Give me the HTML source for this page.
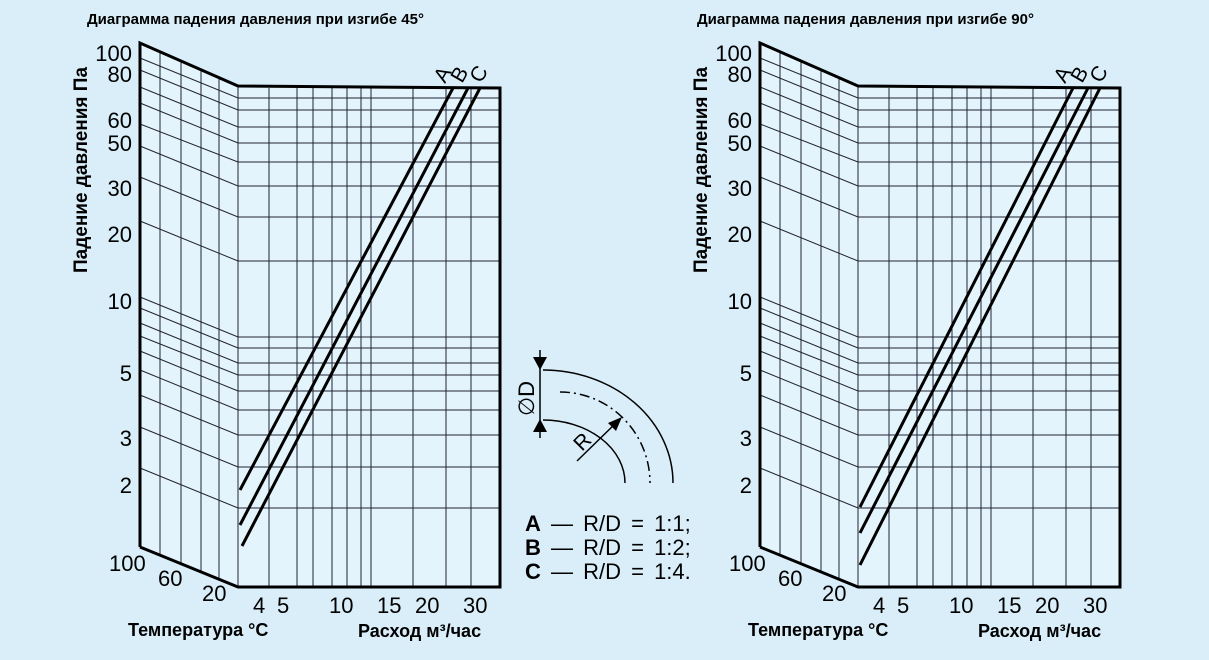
<!DOCTYPE html>
<html><head><meta charset="utf-8"><style>
body{margin:0;background:#d9eef9;}
svg{display:block;font-family:"Liberation Sans",sans-serif;}
</style></head><body>
<svg width="1209" height="660" viewBox="0 0 1209 660" xmlns="http://www.w3.org/2000/svg">
<rect width="1209" height="660" fill="#d9eef9"/>
<defs>
<g id="grid">
  <polygon points="140,43 238,86 500,88 500,587 238,587 140,547" fill="#e3f4fc"/>
  <g stroke="#223" stroke-width="1" fill="none">
    <line x1="160" y1="52" x2="160" y2="556"/>
    <line x1="181" y1="61" x2="181" y2="564"/>
    <line x1="201" y1="70" x2="201" y2="572"/>
    <line x1="219" y1="78" x2="219" y2="579"/>
    <line x1="269" y1="88" x2="269" y2="587"/>
    <line x1="297" y1="88" x2="297" y2="587"/>
    <line x1="313" y1="88" x2="313" y2="587"/>
    <line x1="332" y1="88" x2="332" y2="587"/>
    <line x1="347" y1="88" x2="347" y2="587"/>
    <line x1="361" y1="88" x2="361" y2="587"/>
    <line x1="371" y1="88" x2="371" y2="587"/>
    <line x1="413" y1="88" x2="413" y2="587"/>
    <line x1="446" y1="88" x2="446" y2="587"/>
    <line x1="471" y1="88" x2="471" y2="587"/>
    <polyline points="140,58 238,98 500,98"/>
    <polyline points="140,70 238,110 500,110"/>
    <polyline points="140,87 238,127 500,127"/>
    <polyline points="140,103 238,143 500,143"/>
    <polyline points="140,124 238,162 500,162"/>
    <polyline points="140,146 238,186 500,186"/>
    <polyline points="140,177 238,217 500,217"/>
    <polyline points="140,221 238,261 500,261"/>
    <polyline points="140,297 238,337 500,337"/>
    <polyline points="140,308 238,348 500,348"/>
    <polyline points="140,323 238,363 500,363"/>
    <polyline points="140,336 238,375 500,375"/>
    <polyline points="140,351 238,391 500,391"/>
    <polyline points="140,370 238,410 500,410"/>
    <polyline points="140,395 238,435 500,435"/>
    <polyline points="140,427 238,467 500,467"/>
    <polyline points="140,468 238,508 500,508"/>
    <line x1="238" y1="86" x2="238" y2="587"/>
  </g>
  <g stroke="#000" stroke-width="3" fill="none">
    <polyline points="140,547 140,43 238,86 500,88 500,587 238,587 140,547"/>
  </g>
  <g font-size="22" fill="#000" text-anchor="end">
    <text x="132" y="61">100</text>
    <text x="132" y="82">80</text>
    <text x="132" y="128">60</text>
    <text x="132" y="151">50</text>
    <text x="132" y="196">30</text>
    <text x="132" y="242">20</text>
    <text x="132" y="309">10</text>
    <text x="132" y="381">5</text>
    <text x="132" y="446">3</text>
    <text x="132" y="493">2</text>
  </g>
  <g font-size="22" fill="#000">
    <text x="109" y="571">100</text>
    <text x="158" y="586">60</text>
    <text x="202" y="601">20</text>
    <text x="253" y="613">4</text>
    <text x="277" y="613">5</text>
    <text x="329" y="613">10</text>
    <text x="377" y="613">15</text>
    <text x="415" y="613">20</text>
    <text x="463" y="613">30</text>
  </g>
  <text x="128" y="636" font-size="18" font-weight="bold">Температура °C</text>
  <text x="358" y="637" font-size="18" font-weight="bold">Расход м³/час</text>
  <text transform="translate(87,170) rotate(-90)" text-anchor="middle" font-size="19" font-weight="bold">Падение давления Па</text>
</g>
</defs>

<text x="87" y="24" font-size="15" font-weight="bold">Диаграмма падения давления при изгибе 45°</text>
<use href="#grid"/>
<g stroke="#000" stroke-width="3">
  <line x1="240" y1="490" x2="453" y2="88"/>
  <line x1="240" y1="525" x2="468" y2="88"/>
  <line x1="242" y1="546" x2="480" y2="88"/>
</g>
<g font-size="21">
  <text transform="translate(445,84) rotate(-60)">A</text>
  <text transform="translate(462,84) rotate(-60)">B</text>
  <text transform="translate(481,84) rotate(-60)">C</text>
</g>

<text x="697" y="24" font-size="15" font-weight="bold">Диаграмма падения давления при изгибе 90°</text>
<use href="#grid" transform="translate(620,0)"/>
<g stroke="#000" stroke-width="3">
  <line x1="860" y1="507" x2="1073" y2="88"/>
  <line x1="860" y1="533" x2="1088" y2="88"/>
  <line x1="860" y1="565" x2="1100" y2="88"/>
</g>
<g font-size="21">
  <text transform="translate(1065,84) rotate(-60)">A</text>
  <text transform="translate(1082,84) rotate(-60)">B</text>
  <text transform="translate(1101,84) rotate(-60)">C</text>
</g>

<g stroke="#000" fill="none" stroke-width="1.5">
  <line x1="540" y1="350" x2="540" y2="438"/>
  <path d="M543 370 A130 113 0 0 1 673 483"/>
  <path d="M543 420 A82 63 0 0 1 625 483"/>
  <path d="M560 392 A90 91 0 0 1 650 483" stroke-dasharray="10,4,2,4"/>
  <line x1="577" y1="461" x2="619" y2="420"/>
</g>
<polygon points="533,357 547,357 540,370" fill="#000"/>
<polygon points="533,432 547,432 540,419" fill="#000"/>
<polygon points="608,423 622,417 616,431" fill="#000"/>
<text transform="translate(534,416) rotate(-90)" font-size="22">∅D</text>
<text transform="translate(582,452) rotate(-45)" font-size="21">R</text>
<g font-size="22" word-spacing="4">
  <text x="525" y="531"><tspan font-weight="bold">A</tspan> — R/D = 1:1;</text>
  <text x="525" y="555"><tspan font-weight="bold">B</tspan> — R/D = 1:2;</text>
  <text x="525" y="579"><tspan font-weight="bold">C</tspan> — R/D = 1:4.</text>
</g>
</svg>
</body></html>
